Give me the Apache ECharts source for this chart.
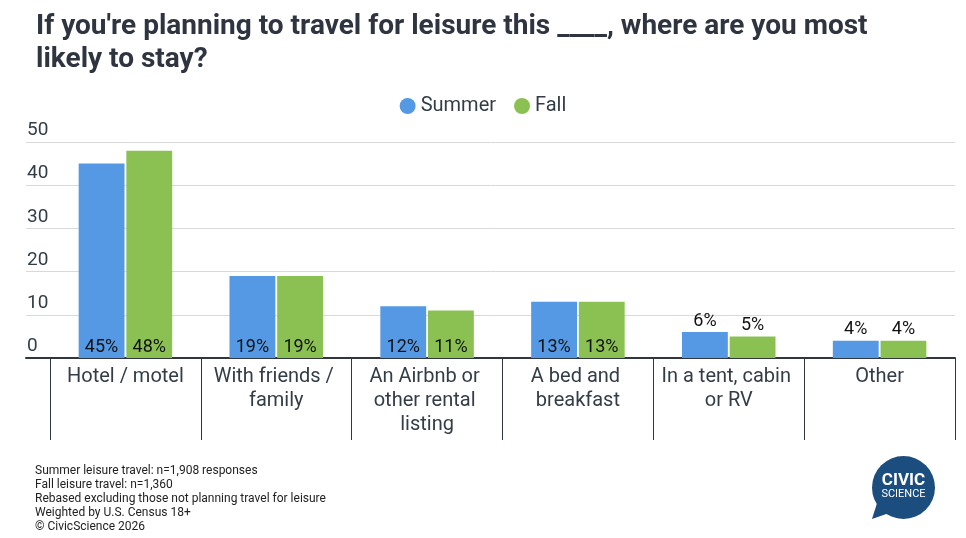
<!DOCTYPE html>
<html>
<head>
<meta charset="utf-8">
<script src="https://cdn.jsdelivr.net/npm/echarts@6/dist/echarts.min.js"></script>
<style>
  html, body { margin: 0; padding: 0; background: #fff; }
  #chart { width: 966px; height: 538px; }
</style>
</head>
<body>
<div id="chart"></div>
<script>
var categories = ['Hotel / motel', 'With friends / family', 'An Airbnb or other rental listing', 'A bed and breakfast', 'In a tent, cabin or RV', 'Other'];
var summer = [45, 19, 12, 13, 6, 4];
var fall = [48, 19, 11, 13, 5, 4];
var yTicks = [0, 10, 20, 30, 40, 50];
var notes = [
  'Summer leisure travel: n=1,908 responses',
  'Fall leisure travel: n=1,360',
  'Rebased excluding those not planning travel for leisure',
  'Weighted by U.S. Census 18+',
  '\u00a9 CivicScience 2026'
];

var FONT = 'Roboto, "Noto Sans", sans-serif';
var TEXT = '#333d47';
var AXIS = '#2f3640';

// small bars get their label on top, the rest sit inside at the bottom
function barData(arr) {
  return arr.map(function (v) {
    return { value: v, label: { position: v >= 10 ? 'insideBottom' : 'top' } };
  });
}

var chart = echarts.init(document.getElementById('chart'));

var barLabel = {
  show: true,
  formatter: '{c}%',
  fontFamily: FONT,
  fontSize: 18,
  color: '#111',
  distance: 2
};

var option = {
  backgroundColor: '#ffffff',
  color: ['#5599E5', '#8BC153'],
  textStyle: { fontFamily: FONT },
  title: [{
    text: "If you're planning to travel for leisure this ____, where are you most likely to stay?",
    left: 36,
    top: 10,
    padding: 0,
    textStyle: {
      fontFamily: FONT,
      fontSize: 28,
      fontWeight: 'bold',
      color: '#2f3540',
      lineHeight: 33,
      width: 855,
      overflow: 'break'
    }
  }, {
    text: notes.join('\n'),
    left: 35,
    top: 464,
    padding: 0,
    textStyle: {
      fontFamily: FONT,
      fontSize: 12,
      fontWeight: 'normal',
      color: '#222',
      lineHeight: 14
    }
  }],
  legend: {
    top: 91,
    left: 'center',
    icon: 'circle',
    itemWidth: 16,
    itemHeight: 16,
    itemGap: 18,
    textStyle: { fontFamily: FONT, fontSize: 20, color: TEXT },
    data: ['Summer', 'Fall']
  },
  grid: [
    { left: 26, right: 11, top: 142, bottom: 180 },
    { left: 50, right: 11, top: 142, bottom: 180 }
  ],
  xAxis: [{
    gridIndex: 0,
    type: 'category',
    data: [''],
    axisLine: { lineStyle: { color: AXIS, width: 2 } },
    axisTick: { show: false },
    axisLabel: { show: false }
  }, {
    gridIndex: 1,
    type: 'category',
    data: categories,
    axisLine: { show: false },
    axisTick: { show: true, length: 82, interval: 0, lineStyle: { color: AXIS, width: 1 } },
    axisLabel: {
      interval: 0,
      margin: 7,
      fontFamily: FONT,
      fontSize: 20,
      lineHeight: 24,
      color: TEXT,
      width: 138,
      overflow: 'break'
    }
  }],
  yAxis: [{
    gridIndex: 0,
    type: 'value',
    min: yTicks[0],
    max: yTicks[yTicks.length - 1],
    interval: 10,
    axisLine: { show: false },
    axisTick: { show: false },
    splitLine: { lineStyle: { color: '#d9d9d9', width: 1 } },
    axisLabel: {
      inside: true,
      margin: 1,
      verticalAlign: 'bottom',
      padding: [0, 0, 2, 0],
      fontFamily: FONT,
      fontSize: 19,
      color: TEXT
    }
  }, {
    gridIndex: 1,
    type: 'value',
    min: yTicks[0],
    max: yTicks[yTicks.length - 1],
    show: false
  }],
  series: [{
    name: 'Summer',
    type: 'bar',
    xAxisIndex: 1,
    yAxisIndex: 1,
    data: barData(summer),
    barCategoryGap: '38%',
    barGap: '4%',
    label: barLabel
  }, {
    name: 'Fall',
    type: 'bar',
    xAxisIndex: 1,
    yAxisIndex: 1,
    data: barData(fall),
    barCategoryGap: '38%',
    barGap: '4%',
    label: barLabel
  }],
  graphic: [{
    type: 'group',
    left: 872,
    top: 456,
    children: [{
      type: 'polygon',
      shape: { points: [[6, 44], [0, 63], [20, 56]] },
      style: { fill: '#1b4d7e' }
    }, {
      type: 'circle',
      shape: { cx: 31.5, cy: 31.5, r: 31.5 },
      style: { fill: '#1b4d7e' }
    }, {
      type: 'text',
      style: {
        x: 31.5, y: 25, text: 'CIVIC', fill: '#fff',
        font: 'bold 17px ' + FONT, align: 'center', verticalAlign: 'middle'
      }
    }, {
      type: 'text',
      style: {
        x: 31.5, y: 38.5, text: 'SCIENCE', fill: '#fff',
        font: '11px ' + FONT, align: 'center', verticalAlign: 'middle'
      }
    }]
  }]
};

chart.setOption(option);
</script>
</body>
</html>
